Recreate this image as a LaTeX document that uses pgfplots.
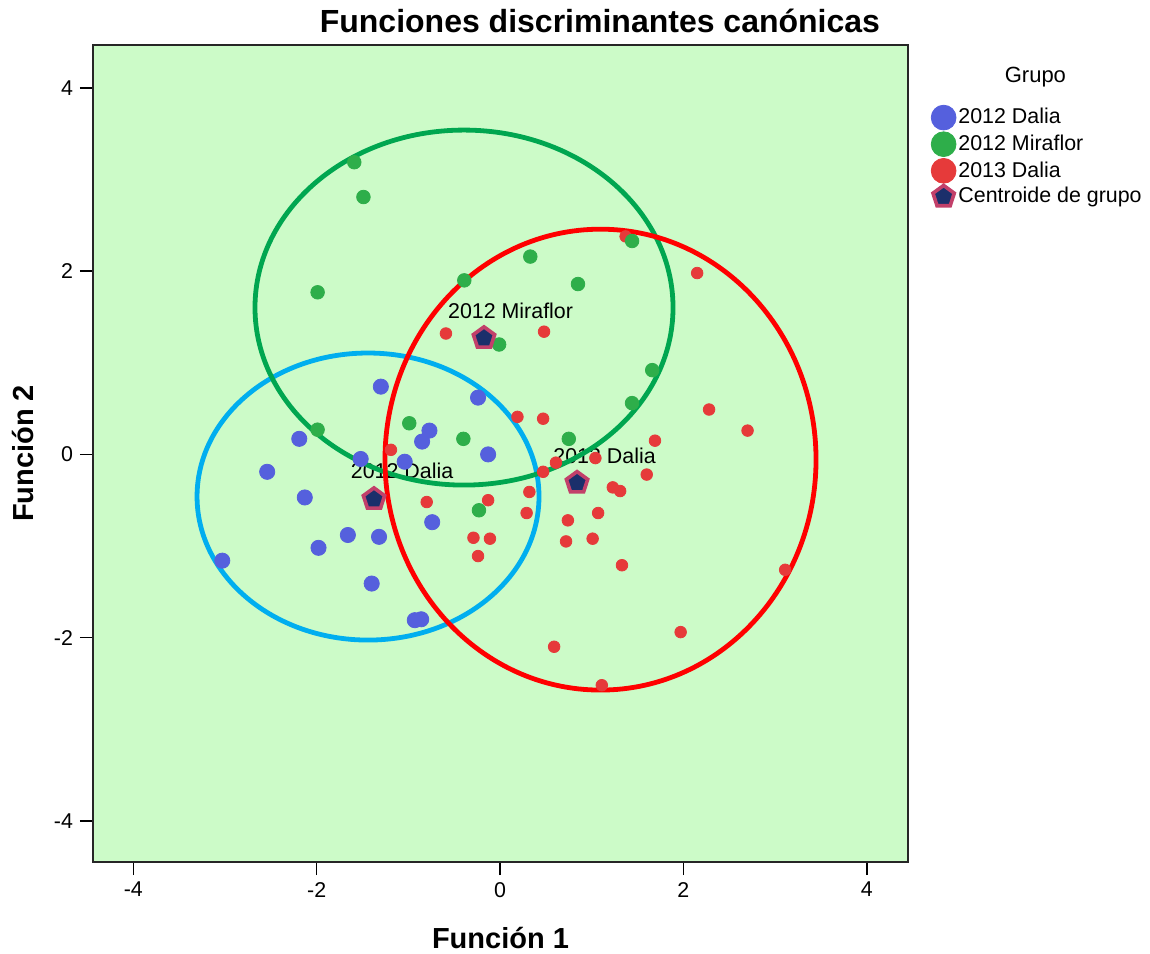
\documentclass[border=0pt]{standalone}
\usepackage{pgfplots}
\usepackage{pgfplotstable}
\pgfplotsset{compat=1.18}
\usepackage{fontspec}
\setmainfont{Liberation Sans}
\usetikzlibrary{plotmarks}
\definecolor{bggreen}{HTML}{CCFBC8}
\definecolor{pblue}{HTML}{5560DD}
\definecolor{pgreen}{HTML}{2EAE4A}
\definecolor{pred}{HTML}{E63A3A}
\definecolor{eblue}{HTML}{00AEEF}
\definecolor{egreen}{HTML}{00A650}
\definecolor{ered}{HTML}{FF0000}
\definecolor{cfill}{HTML}{1B2F6B}
\definecolor{cdraw}{HTML}{C2406A}

\pgfplotstableread{
x y
-3.03 -1.16
-2.54 -0.19
-2.13 -0.47
-2.19 0.17
-1.98 -1.02
-1.66 -0.88
-1.32 -0.90
-1.40 -1.41
-1.30 0.74
-1.52 -0.05
-1.04 -0.08
-0.77 0.26
-0.85 0.14
-0.74 -0.74
-0.24 0.62
-0.13 0.00
-0.93 -1.81
-0.86 -1.80
}\daliadoce

\pgfplotstableread{
x y
-1.59 3.19
-1.49 2.81
-1.99 1.77
-1.99 0.27
-0.99 0.34
-0.40 0.17
-0.23 -0.61
-0.39 1.90
0.33 2.16
0.85 1.86
1.44 2.33
-0.01 1.20
1.66 0.92
1.44 0.56
0.75 0.17
}\miraflor

\pgfplotstableread{
x y
1.37 2.38
2.15 1.98
-0.59 1.32
0.48 1.34
2.28 0.49
2.70 0.26
0.47 0.39
0.19 0.41
1.69 0.15
-1.19 0.05
-0.80 -0.52
-0.13 -0.50
0.32 -0.41
0.29 -0.64
-0.29 -0.91
-0.11 -0.92
-0.24 -1.11
0.61 -0.09
1.04 -0.04
0.47 -0.19
1.60 -0.22
1.23 -0.36
1.31 -0.40
0.74 -0.72
1.07 -0.64
0.72 -0.95
1.01 -0.92
1.33 -1.21
3.11 -1.26
1.97 -1.94
0.59 -2.10
1.11 -2.52
}\daliatrece

\pgfplotstableread{
x y
-1.375 -0.488
-0.175 1.27
0.84 -0.31
}\centroides

\begin{document}
\begin{tikzpicture}
\useasboundingbox (0pt,0pt) rectangle (575pt,476.5pt);
\begin{axis}[
  at={(46.5pt,45.5pt)}, anchor=south west,
  scale only axis, width=407.5pt, height=408.5pt,
  xmin=-4.44, xmax=4.45, ymin=-4.45, ymax=4.47,
  axis background/.style={fill=bggreen},
  axis line style={black!85, line width=0.8pt},
  tick align=outside, major tick length=6.5pt,
  tick style={black, line width=0.8pt},
  tick pos=left,
  xtick={-4,-2,0,2,4}, xticklabels={-4,-2,0,2,4},
  ytick={-4,-2,0,2,4}, yticklabels={-4,-2,0,2,4},
  ticklabel style={font=\fontsize{10.7}{12}\selectfont},
  title={Funciones discriminantes canónicas},
  title style={font=\bfseries\fontsize{16}{19}\selectfont, at={(axis description cs:0.622,1)}, anchor=base, yshift=0pt},
  xlabel={Función 1},
  xlabel style={font=\bfseries\fontsize{14.5}{17}\selectfont, at={(axis description cs:0.5,-0.1053)}, anchor=base},
  ylabel={Función 2},
  ylabel style={font=\bfseries\fontsize{14.5}{17}\selectfont, at={(axis description cs:-0.0736,0.5)}, anchor=base},
  legend image code/.code={\draw[#1] plot coordinates {(0pt,0pt)};},
  legend cell align=left,
  legend style={at={(axis description cs:1.0285,0.9263)}, anchor=north west, draw=none, fill=none,
    inner sep=0pt, outer sep=0pt, row sep=0.9pt, column sep=0pt,
    nodes={inner sep=1.2pt}, font=\fontsize{10.7}{12}\selectfont},
]
\addlegendimage{only marks, mark=*, mark size=6.2pt, mark options={draw=pblue, fill=pblue}}
\addlegendentry{2012 Dalia}
\addlegendimage{only marks, mark=*, mark size=6.2pt, mark options={draw=pgreen, fill=pgreen}}
\addlegendentry{2012 Miraflor}
\addlegendimage{only marks, mark=*, mark size=6.2pt, mark options={draw=pred, fill=pred}}
\addlegendentry{2013 Dalia}
\addlegendimage{only marks, mark=pentagon*, mark size=5.6pt, mark options={draw=cdraw, fill=cfill, line width=1.8pt}}
\addlegendentry{Centroide de grupo}

\node[anchor=base, font=\fontsize{10.7}{12}\selectfont] at (axis cs:0.115,1.488) {2012 Miraflor};
\node[anchor=base, font=\fontsize{10.7}{12}\selectfont] at (axis cs:-1.069,-0.259) {2012 Dalia};
\node[anchor=base, font=\fontsize{10.7}{12}\selectfont] at (axis cs:1.14,-0.095) {2013 Dalia};

\draw[eblue, line width=2.4pt] (axis cs:-1.44,-0.46) ellipse [x radius=1.865, y radius=1.567];
\draw[egreen, line width=2.4pt] (axis cs:-0.393,1.603) ellipse [x radius=2.28, y radius=1.938];
\draw[ered, line width=2.4pt] (axis cs:1.096,-0.057) ellipse [x radius=2.351, y radius=2.516];

\addplot[only marks, mark=*, mark size=2.9pt, mark options={draw=pred, fill=pred}, forget plot] table {\daliatrece};
\addplot[only marks, mark=*, mark size=3.8pt, mark options={draw=pblue, fill=pblue}, forget plot] table {\daliadoce};
\addplot[only marks, mark=*, mark size=3.4pt, mark options={draw=pgreen, fill=pgreen}, forget plot] table {\miraflor};
\addplot[only marks, mark=pentagon*, mark size=5.6pt, mark options={draw=cdraw, fill=cfill, line width=1.8pt}, forget plot] table {\centroides};
\end{axis}
\node[anchor=base, font=\fontsize{11}{13}\selectfont] at (517.7pt,435pt) {Grupo};
\end{tikzpicture}
\end{document}
